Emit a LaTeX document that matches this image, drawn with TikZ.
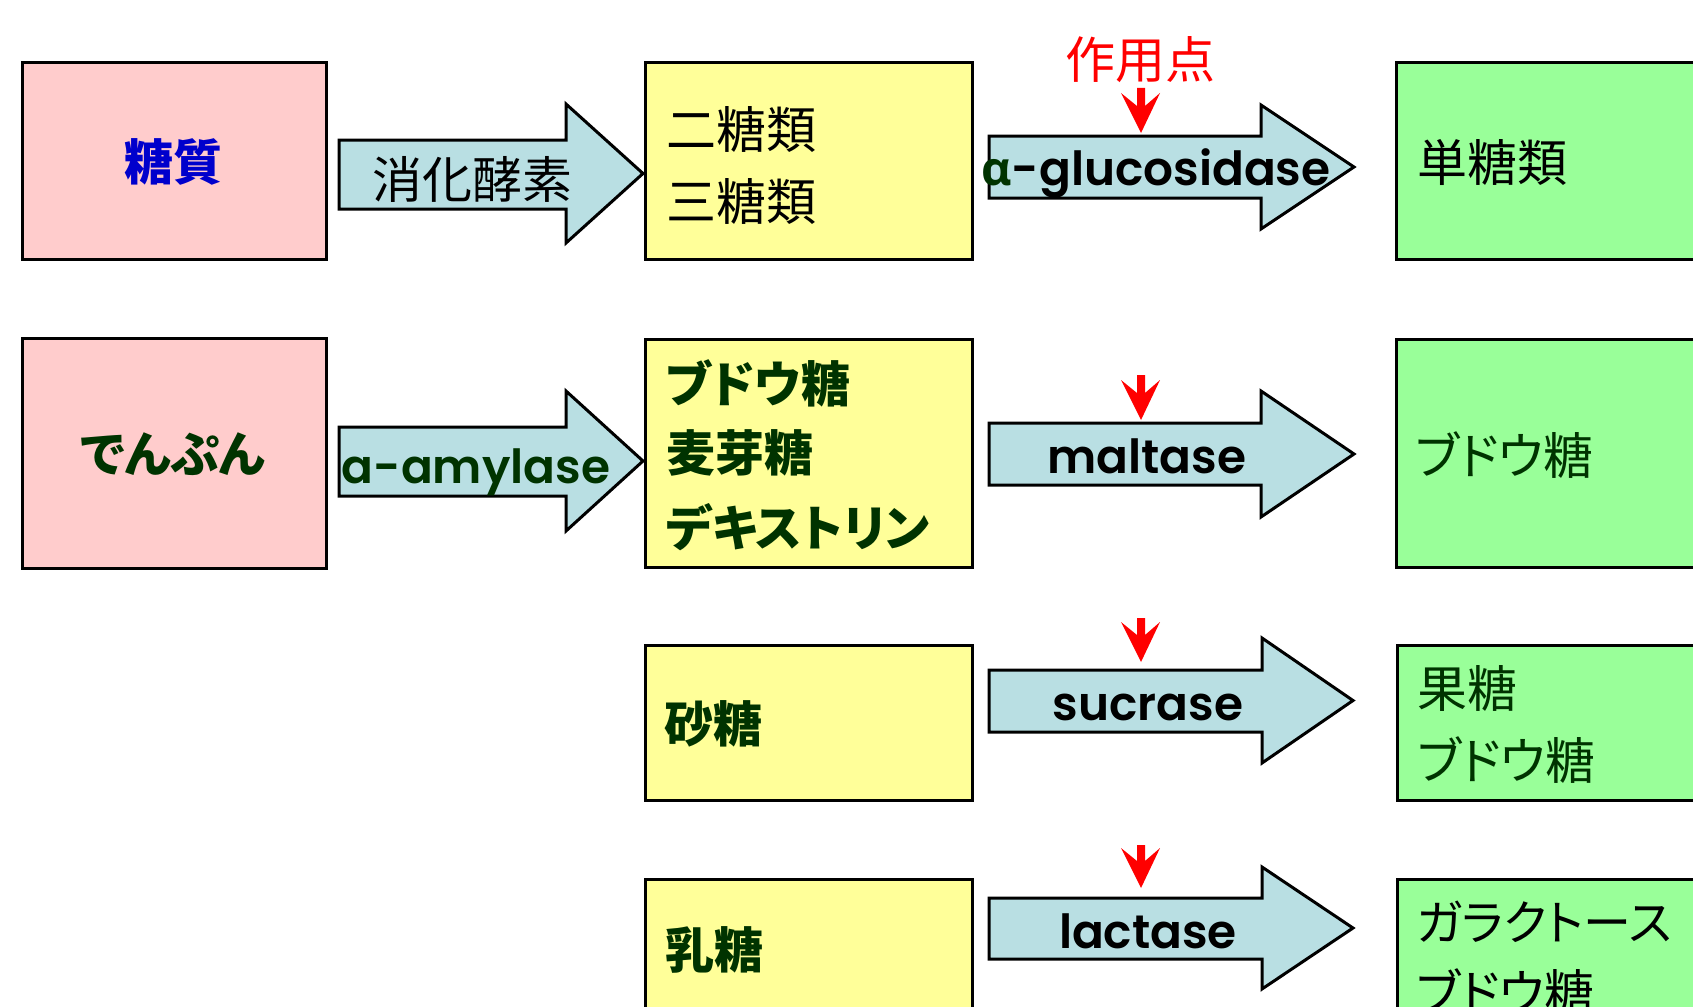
\documentclass[tikz,border=0pt]{standalone}
\usepackage{fontspec}
\newfontfamily\jp{Noto Sans CJK JP}[RawFeature=+palt]
\newfontfamily\lat{Poppins SemiBold}
\newfontfamily\grk{Open Sans}
\definecolor{pinkbox}{HTML}{FFCCCC}
\definecolor{yelbox}{HTML}{FFFF99}
\definecolor{grnbox}{HTML}{99FF99}
\definecolor{arrfill}{HTML}{B9DFE3}
\definecolor{dkgreen}{HTML}{003300}
\definecolor{txtblue}{HTML}{0000CC}
\newcommand\barrow[7]{%
  \draw[barr] (#1,#2) -- (#4,#2) -- (#4,#5) -- (#7,{(#5+#6)/2}) -- (#4,#6) -- (#4,#3) -- (#1,#3) -- cycle;}
\newcommand\redmark[3]{%
  \fill[red] ({#1-4},#2) -- ({#1+4},#2) -- ({#1+4},{#3-27}) -- ({#1+19},{#3-40}) -- (#1,#3) -- ({#1-20},{#3-40}) -- ({#1-4},{#3-27}) -- cycle;}
\begin{document}
\begin{tikzpicture}[x=1pt,y=-1pt,
  box/.style={draw=black,line width=3pt,anchor=north west,inner sep=0pt},
  barr/.style={draw=black,line width=3pt,fill=arrfill,line join=miter},
  jt/.style={font=\jp\fontsize{50}{60}\selectfont,inner sep=0pt},
  jb/.style={font=\jp\bfseries\fontsize{49}{60}\selectfont,inner sep=0pt},
  lt/.style={font=\lat\fontsize{47}{58}\selectfont,inner sep=0pt,anchor=base}]
\useasboundingbox (0,0) rectangle (1693,1006);
\clip (0,0) rectangle (1693,1006);
% boxes
\node[box,fill=pinkbox,minimum width=304pt,minimum height=197pt] (a1) at (21,61) {};
\node[box,fill=pinkbox,minimum width=304pt,minimum height=230pt] (a2) at (21,337) {};
\node[box,fill=yelbox,minimum width=327pt,minimum height=197pt] (y1) at (644,61) {};
\node[box,fill=yelbox,minimum width=327pt,minimum height=228pt] (y2) at (644,338) {};
\node[box,fill=yelbox,minimum width=327pt,minimum height=155pt] (y3) at (644,644) {};
\node[box,fill=yelbox,minimum width=327pt,minimum height=200pt] (y4) at (644,878) {};
\node[box,fill=grnbox,minimum width=330pt,minimum height=197pt] (g1) at (1395,61) {};
\node[box,fill=grnbox,minimum width=330pt,minimum height=228pt] (g2) at (1395,338) {};
\node[box,fill=grnbox,minimum width=330pt,minimum height=155pt] (g3) at (1396,644) {};
\node[box,fill=grnbox,minimum width=330pt,minimum height=200pt] (g4) at (1396,878) {};
% block arrows
\barrow{339}{140}{209}{566}{104}{243}{643}
\barrow{339}{427}{496}{566}{391}{531}{643}
\barrow{989}{136}{198}{1261}{105}{229}{1354}
\barrow{989}{423}{485}{1261}{391}{517}{1354}
\barrow{989}{670}{732}{1262}{638}{763}{1353}
\barrow{989}{898}{959}{1262}{867}{989}{1353}
% red markers
\redmark{1141}{88}{133}
\redmark{1141}{375}{420}
\redmark{1141}{618}{662}
\redmark{1141}{845}{888}
% texts
\node[jb,text=txtblue] (t1) at (173,162) {糖質};
\node[jb,text=dkgreen] (t2) at (173,454) {でんぷん};
\node[jt] (t3) at (472,179) {消化酵素};
\node[jt,text=red] (t4) at (1140,60) {作用点};
\node[jt,anchor=west] (t5) at (666,129) {二糖類};
\node[jt,anchor=west] (t6) at (666,201) {三糖類};
\node[jb,anchor=west,text=dkgreen] (t7) at (666,383) {ブドウ糖};
\node[jb,anchor=west,text=dkgreen] (t8) at (666,453) {麦芽糖};
\node[jb,anchor=west,text=dkgreen] (t9) at (666,527) {デキストリン};
\node[jb,anchor=west,text=dkgreen] (t10) at (664,724) {砂糖};
\node[jb,anchor=west,text=dkgreen] (t11) at (665,950) {乳糖};
\node[jt,anchor=west] (t12) at (1417,162) {単糖類};
\node[jt,anchor=west,text=dkgreen] (t13) at (1415,455) {ブドウ糖};
\node[jt,anchor=west,text=dkgreen] (t14) at (1417,688) {果糖};
\node[jt,anchor=west,text=dkgreen] (t15) at (1417,760) {ブドウ糖};
\node[jt,anchor=west,font=\jp\fontsize{48}{58}\selectfont] (t16) at (1416,922) {ガラクトース};
\node[jt,anchor=west] (t17) at (1416,992) {ブドウ糖};
\node[lt] (e1) at (1156,185) {{\grk\bfseries\textcolor{dkgreen}{α}}-glucosidase};
\node[lt,text=dkgreen] (e2) at (476,483) {a-amylase};
\node[lt] (e3) at (1147,473) {maltase};
\node[lt] (e4) at (1148,720) {sucrase};
\node[lt] (e5) at (1148,948) {lactase};
\end{tikzpicture}
\end{document}
